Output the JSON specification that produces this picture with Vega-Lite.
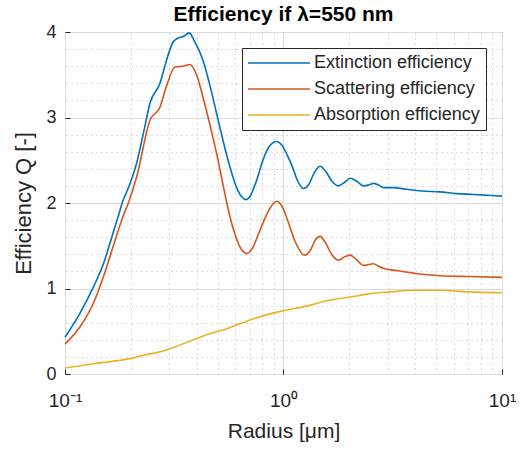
{
  "$schema": "https://vega.github.io/schema/vega-lite/v6.json",
  "width": 437,
  "height": 342,
  "autosize": "none",
  "padding": {"left": 65, "top": 32, "right": 18, "bottom": 75},
  "background": "white",
  "title": {"text": "Efficiency if  λ=550 nm", "font": "Liberation Sans", "fontSize": 21, "fontWeight": "bold", "color": "#000000", "anchor": "middle", "offset": -2},
  "config": {
    "view": {"stroke": "#262626", "strokeWidth": 1},
    "axis": {"labelFont": "Liberation Sans", "titleFont": "Liberation Sans", "labelColor": "#262626", "titleColor": "#262626", "titleFontWeight": "normal", "domain": false}
  },
  "data": {"values": [
    {"r":0.1,"q":0.43,"s":"Extinction efficiency"},
    {"r":0.117,"q":0.71,"s":"Extinction efficiency"},
    {"r":0.135,"q":1.02,"s":"Extinction efficiency"},
    {"r":0.15,"q":1.29,"s":"Extinction efficiency"},
    {"r":0.166,"q":1.65,"s":"Extinction efficiency"},
    {"r":0.175,"q":1.84,"s":"Extinction efficiency"},
    {"r":0.185,"q":2.04,"s":"Extinction efficiency"},
    {"r":0.191,"q":2.12,"s":"Extinction efficiency"},
    {"r":0.213,"q":2.47,"s":"Extinction efficiency"},
    {"r":0.23,"q":2.85,"s":"Extinction efficiency"},
    {"r":0.245,"q":3.17,"s":"Extinction efficiency"},
    {"r":0.272,"q":3.4,"s":"Extinction efficiency"},
    {"r":0.29,"q":3.65,"s":"Extinction efficiency"},
    {"r":0.312,"q":3.88,"s":"Extinction efficiency"},
    {"r":0.33,"q":3.93,"s":"Extinction efficiency"},
    {"r":0.35,"q":3.95,"s":"Extinction efficiency"},
    {"r":0.37,"q":3.99,"s":"Extinction efficiency"},
    {"r":0.39,"q":3.9,"s":"Extinction efficiency"},
    {"r":0.428,"q":3.67,"s":"Extinction efficiency"},
    {"r":0.46,"q":3.38,"s":"Extinction efficiency"},
    {"r":0.494,"q":3.05,"s":"Extinction efficiency"},
    {"r":0.53,"q":2.72,"s":"Extinction efficiency"},
    {"r":0.569,"q":2.42,"s":"Extinction efficiency"},
    {"r":0.61,"q":2.18,"s":"Extinction efficiency"},
    {"r":0.645,"q":2.07,"s":"Extinction efficiency"},
    {"r":0.673,"q":2.04,"s":"Extinction efficiency"},
    {"r":0.7,"q":2.07,"s":"Extinction efficiency"},
    {"r":0.75,"q":2.25,"s":"Extinction efficiency"},
    {"r":0.805,"q":2.5,"s":"Extinction efficiency"},
    {"r":0.86,"q":2.66,"s":"Extinction efficiency"},
    {"r":0.93,"q":2.72,"s":"Extinction efficiency"},
    {"r":0.98,"q":2.68,"s":"Extinction efficiency"},
    {"r":1.04,"q":2.56,"s":"Extinction efficiency"},
    {"r":1.1,"q":2.42,"s":"Extinction efficiency"},
    {"r":1.16,"q":2.26,"s":"Extinction efficiency"},
    {"r":1.23,"q":2.17,"s":"Extinction efficiency"},
    {"r":1.3,"q":2.21,"s":"Extinction efficiency"},
    {"r":1.38,"q":2.35,"s":"Extinction efficiency"},
    {"r":1.47,"q":2.43,"s":"Extinction efficiency"},
    {"r":1.56,"q":2.37,"s":"Extinction efficiency"},
    {"r":1.66,"q":2.26,"s":"Extinction efficiency"},
    {"r":1.78,"q":2.2,"s":"Extinction efficiency"},
    {"r":1.9,"q":2.24,"s":"Extinction efficiency"},
    {"r":2.02,"q":2.29,"s":"Extinction efficiency"},
    {"r":2.15,"q":2.26,"s":"Extinction efficiency"},
    {"r":2.33,"q":2.2,"s":"Extinction efficiency"},
    {"r":2.45,"q":2.21,"s":"Extinction efficiency"},
    {"r":2.58,"q":2.23,"s":"Extinction efficiency"},
    {"r":2.72,"q":2.21,"s":"Extinction efficiency"},
    {"r":2.87,"q":2.18,"s":"Extinction efficiency"},
    {"r":3.2,"q":2.18,"s":"Extinction efficiency"},
    {"r":3.66,"q":2.16,"s":"Extinction efficiency"},
    {"r":4.3,"q":2.14,"s":"Extinction efficiency"},
    {"r":5.2,"q":2.13,"s":"Extinction efficiency"},
    {"r":6.2,"q":2.11,"s":"Extinction efficiency"},
    {"r":7.4,"q":2.1,"s":"Extinction efficiency"},
    {"r":8.6,"q":2.09,"s":"Extinction efficiency"},
    {"r":10,"q":2.08,"s":"Extinction efficiency"},
    {"r":0.1,"q":0.35,"s":"Scattering efficiency"},
    {"r":0.117,"q":0.55,"s":"Scattering efficiency"},
    {"r":0.135,"q":0.83,"s":"Scattering efficiency"},
    {"r":0.15,"q":1.14,"s":"Scattering efficiency"},
    {"r":0.166,"q":1.49,"s":"Scattering efficiency"},
    {"r":0.184,"q":1.84,"s":"Scattering efficiency"},
    {"r":0.195,"q":2.0,"s":"Scattering efficiency"},
    {"r":0.213,"q":2.31,"s":"Scattering efficiency"},
    {"r":0.245,"q":2.97,"s":"Scattering efficiency"},
    {"r":0.272,"q":3.12,"s":"Scattering efficiency"},
    {"r":0.29,"q":3.35,"s":"Scattering efficiency"},
    {"r":0.319,"q":3.59,"s":"Scattering efficiency"},
    {"r":0.345,"q":3.6,"s":"Scattering efficiency"},
    {"r":0.373,"q":3.62,"s":"Scattering efficiency"},
    {"r":0.4,"q":3.5,"s":"Scattering efficiency"},
    {"r":0.428,"q":3.24,"s":"Scattering efficiency"},
    {"r":0.46,"q":2.92,"s":"Scattering efficiency"},
    {"r":0.494,"q":2.58,"s":"Scattering efficiency"},
    {"r":0.53,"q":2.2,"s":"Scattering efficiency"},
    {"r":0.569,"q":1.84,"s":"Scattering efficiency"},
    {"r":0.61,"q":1.58,"s":"Scattering efficiency"},
    {"r":0.645,"q":1.45,"s":"Scattering efficiency"},
    {"r":0.68,"q":1.41,"s":"Scattering efficiency"},
    {"r":0.72,"q":1.47,"s":"Scattering efficiency"},
    {"r":0.78,"q":1.68,"s":"Scattering efficiency"},
    {"r":0.85,"q":1.9,"s":"Scattering efficiency"},
    {"r":0.93,"q":2.02,"s":"Scattering efficiency"},
    {"r":0.99,"q":1.95,"s":"Scattering efficiency"},
    {"r":1.05,"q":1.78,"s":"Scattering efficiency"},
    {"r":1.13,"q":1.55,"s":"Scattering efficiency"},
    {"r":1.25,"q":1.39,"s":"Scattering efficiency"},
    {"r":1.33,"q":1.45,"s":"Scattering efficiency"},
    {"r":1.4,"q":1.57,"s":"Scattering efficiency"},
    {"r":1.47,"q":1.61,"s":"Scattering efficiency"},
    {"r":1.56,"q":1.53,"s":"Scattering efficiency"},
    {"r":1.66,"q":1.4,"s":"Scattering efficiency"},
    {"r":1.79,"q":1.33,"s":"Scattering efficiency"},
    {"r":1.9,"q":1.37,"s":"Scattering efficiency"},
    {"r":2.02,"q":1.39,"s":"Scattering efficiency"},
    {"r":2.15,"q":1.34,"s":"Scattering efficiency"},
    {"r":2.33,"q":1.27,"s":"Scattering efficiency"},
    {"r":2.45,"q":1.28,"s":"Scattering efficiency"},
    {"r":2.58,"q":1.29,"s":"Scattering efficiency"},
    {"r":2.72,"q":1.26,"s":"Scattering efficiency"},
    {"r":2.91,"q":1.23,"s":"Scattering efficiency"},
    {"r":3.3,"q":1.21,"s":"Scattering efficiency"},
    {"r":3.93,"q":1.18,"s":"Scattering efficiency"},
    {"r":4.5,"q":1.16,"s":"Scattering efficiency"},
    {"r":5.2,"q":1.15,"s":"Scattering efficiency"},
    {"r":7.0,"q":1.14,"s":"Scattering efficiency"},
    {"r":10,"q":1.13,"s":"Scattering efficiency"},
    {"r":0.1,"q":0.07,"s":"Absorption efficiency"},
    {"r":0.135,"q":0.12,"s":"Absorption efficiency"},
    {"r":0.198,"q":0.18,"s":"Absorption efficiency"},
    {"r":0.23,"q":0.22,"s":"Absorption efficiency"},
    {"r":0.272,"q":0.26,"s":"Absorption efficiency"},
    {"r":0.32,"q":0.32,"s":"Absorption efficiency"},
    {"r":0.387,"q":0.4,"s":"Absorption efficiency"},
    {"r":0.46,"q":0.47,"s":"Absorption efficiency"},
    {"r":0.55,"q":0.53,"s":"Absorption efficiency"},
    {"r":0.65,"q":0.6,"s":"Absorption efficiency"},
    {"r":0.78,"q":0.67,"s":"Absorption efficiency"},
    {"r":1.0,"q":0.74,"s":"Absorption efficiency"},
    {"r":1.3,"q":0.8,"s":"Absorption efficiency"},
    {"r":1.6,"q":0.86,"s":"Absorption efficiency"},
    {"r":2.02,"q":0.9,"s":"Absorption efficiency"},
    {"r":2.5,"q":0.94,"s":"Absorption efficiency"},
    {"r":3.07,"q":0.96,"s":"Absorption efficiency"},
    {"r":3.93,"q":0.98,"s":"Absorption efficiency"},
    {"r":5.2,"q":0.98,"s":"Absorption efficiency"},
    {"r":7.0,"q":0.96,"s":"Absorption efficiency"},
    {"r":10,"q":0.95,"s":"Absorption efficiency"}
  ]},
  "layer": [
    {
      "mark": {"type": "line", "opacity": 0},
      "encoding": {
        "x": {"field": "r", "type": "quantitative", "scale": {"type": "log", "domain": [0.1, 10], "nice": false},
          "axis": {"orient": "top", "values": [0.2,0.3,0.4,0.5,0.6,0.7,0.8,0.9,2,3,4,5,6,7,8,9], "labels": false, "ticks": false, "title": null, "grid": true, "gridColor": "#b4b4b4", "gridDash": [1, 4], "gridWidth": 1}},
        "y": {"field": "q", "type": "quantitative", "scale": {"domain": [0, 4], "nice": false, "zero": true},
          "axis": {"orient": "right", "values": [0.2,0.4,0.6,0.8,1.2,1.4,1.6,1.8,2.2,2.4,2.6,2.8,3.2,3.4,3.6,3.8], "labels": false, "ticks": false, "title": null, "grid": true, "gridColor": "#b4b4b4", "gridDash": [1, 4], "gridWidth": 1}}
      }
    },
    {
      "mark": {"type": "line", "strokeWidth": 1.6, "interpolate": "monotone"},
      "encoding": {
        "x": {"field": "r", "type": "quantitative",
          "axis": {"orient": "bottom", "values": [0.1, 1, 10], "labelExpr": "datum.value < 0.5 ? '10⁻¹' : datum.value < 5 ? '10⁰' : '10¹'", "labelFontSize": 19, "labelPadding": 22, "ticks": true, "tickSize": -5, "tickColor": "#262626", "grid": true, "gridColor": "#dcdcdc", "gridWidth": 1, "title": "Radius [μm]", "titleFontSize": 21, "titlePadding": 10, "labelFlush": false}},
        "y": {"field": "q", "type": "quantitative",
          "axis": {"orient": "left", "values": [0, 1, 2, 3, 4], "labelFontSize": 18, "labelPadding": 14, "ticks": true, "tickSize": -5, "tickColor": "#262626", "grid": true, "gridColor": "#dcdcdc", "gridWidth": 1, "title": "Efficiency Q [-]", "titleFontSize": 22, "titlePadding": 10}},
        "color": {"field": "s", "type": "nominal",
          "scale": {"domain": ["Extinction efficiency", "Scattering efficiency", "Absorption efficiency"], "range": ["#0072BD", "#D95319", "#EDB120"]},
          "legend": {"title": null, "orient": "none", "legendX": 177, "legendY": 16, "symbolType": "M-6,0H6", "symbolSize": 107, "symbolStrokeWidth": 1.6, "symbolOffset": 22, "labelFont": "Liberation Sans", "labelFontSize": 18, "labelColor": "#262626", "labelOffset": 26, "rowPadding": 8, "padding": 6, "strokeColor": "#262626", "fillColor": "white", "labelLimit": 300}}
      }
    }
  ],
  "resolve": {"axis": {"x": "independent", "y": "independent"}}
}
